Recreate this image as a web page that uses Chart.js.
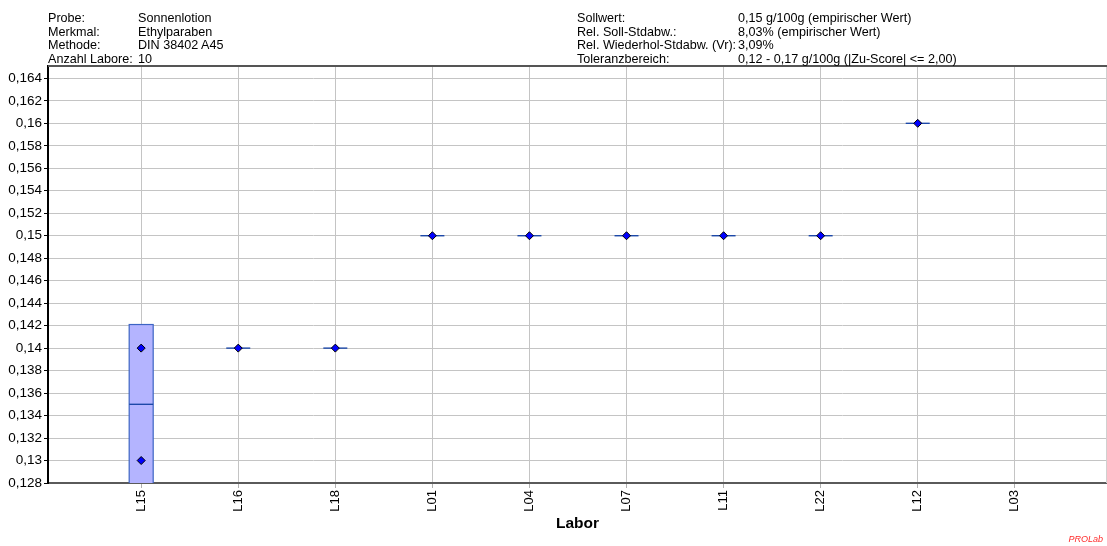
<!DOCTYPE html>
<html>
<head>
<meta charset="utf-8">
<script src="https://cdn.jsdelivr.net/npm/chart.js@4.4.1/dist/chart.umd.min.js"></script>
<style>
  html, body { margin: 0; padding: 0; background: #fff; }
  #wrap { position: relative; width: 1107px; height: 546px; overflow: hidden; }
  canvas { position: absolute; left: 0; top: 0; }
  .hdr { position: absolute; font-family: "Liberation Sans", Arial, sans-serif; font-size: 12.6px; line-height: 13.7px; color: #000; white-space: nowrap; }
  #brand { position: absolute; right: 4px; top: 534px; font-family: "Liberation Sans", Arial, sans-serif; font-size: 9px; font-style: italic; color: #ff2a2a; }
</style>
</head>
<body>
<div id="wrap">
  <canvas id="c" width="1107" height="546"></canvas>
  <div class="hdr" style="left:48px; top:12px;">Probe:<br>Merkmal:<br>Methode:<br>Anzahl Labore:</div>
  <div class="hdr" style="left:138px; top:12px;">Sonnenlotion<br>Ethylparaben<br>DIN 38402 A45<br>10</div>
  <div class="hdr" style="left:577px; top:12px;">Sollwert:<br>Rel. Soll-Stdabw.:<br>Rel. Wiederhol-Stdabw. (Vr):<br>Toleranzbereich:</div>
  <div class="hdr" style="left:738px; top:12px;">0,15 g/100g (empirischer Wert)<br>8,03% (empirischer Wert)<br>3,09%<br>0,12 - 0,17 g/100g (|Zu-Score| &lt;= 2,00)</div>
  <div id="brand">PROLab</div>
</div>
<script>
// ---- data ----
const labs = ['L15', 'L16', 'L18', 'L01', 'L04', 'L07', 'L11', 'L22', 'L12', 'L03'];
const values = [[0.14, 0.13], [0.14], [0.14], [0.15], [0.15], [0.15], [0.15], [0.15], [0.16], []];
const boxLow  = [0.1279, 0.14, 0.14, 0.15, 0.15, 0.15, 0.15, 0.15, 0.16, null];
const boxMid  = [0.135,  0.14, 0.14, 0.15, 0.15, 0.15, 0.15, 0.15, 0.16, null];
const boxHigh = [0.1421, 0.14, 0.14, 0.15, 0.15, 0.15, 0.15, 0.15, 0.16, null];
const yMin = 0.128, yMax = 0.1651, yStep = 0.002;
const xMin = 0.04, xMax = 10.95;

const points = [];
values.forEach((vals, i) => vals.forEach(v => points.push({ x: i + 1, y: v })));

const FONT = '"Liberation Sans", Arial, sans-serif';

const boxPlugin = {
  id: 'boxes',
  beforeDatasetsDraw(chart) {
    const { ctx, chartArea: a, scales: { x, y } } = chart;
    ctx.save();
    // frame lines
    ctx.strokeStyle = '#d0d0d0';
    ctx.lineWidth = 1;
    ctx.beginPath();
    ctx.moveTo(a.right - 0.5, a.top);
    ctx.lineTo(a.right - 0.5, a.bottom);
    ctx.stroke();
    ctx.strokeStyle = '#555555';
    ctx.lineWidth = 2;
    ctx.beginPath();
    ctx.moveTo(a.left, a.top);
    ctx.lineTo(a.right, a.top);
    ctx.stroke();
    ctx.beginPath();
    ctx.rect(a.left, a.top, a.right - a.left, a.bottom - a.top);
    ctx.clip();
    const hw = 12;
    labs.forEach((lab, i) => {
      if (boxMid[i] == null) return;
      const xp = x.getPixelForValue(i + 1);
      const yl = y.getPixelForValue(boxLow[i]);
      const yh = y.getPixelForValue(boxHigh[i]);
      const ym = y.getPixelForValue(boxMid[i]);
      if (yl - yh > 0.5) {
        ctx.fillStyle = '#b4b4ff';
        ctx.fillRect(xp - hw, yh, hw * 2, yl - yh);
        ctx.strokeStyle = '#3c64c4';
        ctx.lineWidth = 1.2;
        ctx.strokeRect(xp - hw, yh, hw * 2, yl - yh);
      }
      ctx.strokeStyle = '#1c48a8';
      ctx.lineWidth = 1.4;
      ctx.beginPath();
      ctx.moveTo(xp - hw, ym);
      ctx.lineTo(xp + hw, ym);
      ctx.stroke();
    });
    ctx.restore();
  }
};

new Chart(document.getElementById('c'), {
  type: 'scatter',
  data: {
    datasets: [{
      data: points,
      pointStyle: 'rectRot',
      pointRadius: 4,
      pointHoverRadius: 4,
      backgroundColor: '#0000ff',
      borderColor: '#000000',
      borderWidth: 1
    }]
  },
  options: {
    responsive: false,
    animation: false,
    devicePixelRatio: 1,
    layout: { autoPadding: false, padding: { top: 66, left: 0, right: 0, bottom: 0 } },
    plugins: { legend: { display: false }, tooltip: { enabled: false } },
    scales: {
      x: {
        type: 'linear',
        min: xMin,
        max: xMax,
        afterBuildTicks(s) { s.ticks = s.ticks.filter(t => Number.isInteger(t.value) && t.value >= 1 && t.value <= labs.length); },
        afterFit(s) { s.height = 63; s.paddingLeft = 0; s.paddingRight = 0; },
        ticks: {
          stepSize: 1,
          includeBounds: false,
          autoSkip: false,
          minRotation: 90,
          maxRotation: 90,
          padding: 2,
          color: '#000',
          font: { family: FONT, size: 13 },
          callback: v => labs[v - 1] || ''
        },
        grid: { color: '#c4c4c4', lineWidth: 1, tickLength: 5, tickColor: '#b0b0b0' },
        border: { color: '#5a5a5a', width: 2 },
        title: {
          display: true,
          text: 'Labor',
          color: '#000',
          font: { family: FONT, size: 15.5, weight: 'bold' },
          padding: { top: 0, bottom: 13 }
        }
      },
      y: {
        min: yMin,
        max: yMax,
        afterFit(s) { s.width = 48; },
        ticks: {
          stepSize: yStep,
          includeBounds: false,
          padding: 2,
          color: '#000',
          font: { family: FONT, size: 13.5 },
          callback: v => String(parseFloat(Number(v).toFixed(3))).replace('.', ',')
        },
        grid: { color: '#c4c4c4', lineWidth: 1, tickLength: 4, tickColor: '#000' },
        border: { color: '#000', width: 2 }
      }
    }
  },
  plugins: [boxPlugin]
});
</script>
</body>
</html>
